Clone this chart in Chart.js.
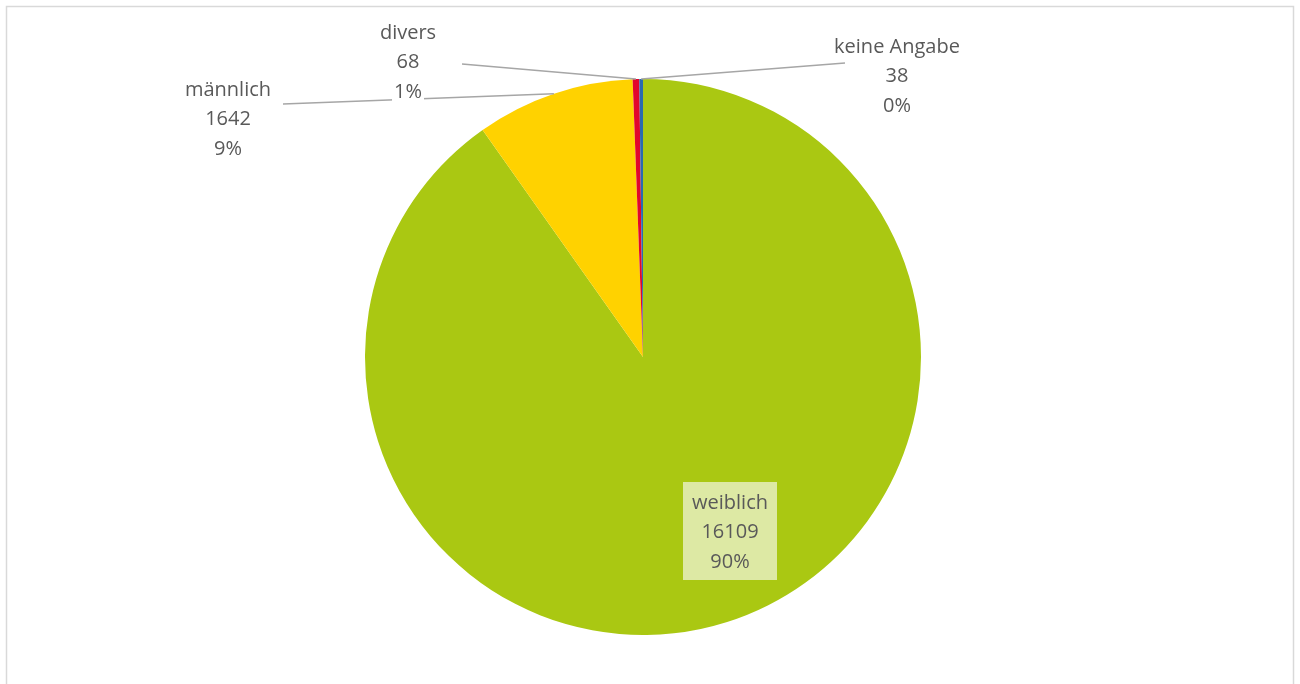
<!DOCTYPE html>
<html>
<head>
<meta charset="utf-8">
<script src="https://cdn.jsdelivr.net/npm/chart.js@4"></script>
<style>
  html, body { margin: 0; padding: 0; background: #ffffff; }
  #wrap { width: 1300px; height: 684px; }
</style>
</head>
<body>
<div id="wrap"><canvas id="genderChart" width="1300" height="684"></canvas></div>
<script>
const categories = ['weiblich', 'männlich', 'divers', 'keine Angabe'];
const counts = [16109, 1642, 68, 38];
const percentLabels = ['90%', '9%', '1%', '0%'];
const sliceColors = ['#aac812', '#ffd200', '#e2062c', '#2a6ab0'];

// where each label block sits (centre x, first line y) and where its leader line starts
const labelSpots = [
    { x: 730, y: 503, box: true },
    { x: 228, y: 90, lineFrom: [283, 104] },
    { x: 408, y: 33, lineFrom: [462, 64] },
    { x: 897, y: 47, lineFrom: [845, 63] }
];

const textColor = '#595959';
const lineColor = '#a6a6a6';
const labelFont = '20px "Open Sans", sans-serif';

const framePlugin = {
    id: 'frame',
    beforeDraw(chart) {
        const c = chart.ctx;
        c.save();
        c.strokeStyle = '#d9d9d9';
        c.lineWidth = 1.5;
        c.beginPath();
        c.moveTo(6.5, 700);
        c.lineTo(6.5, 6.5);
        c.lineTo(1293.5, 6.5);
        c.lineTo(1293.5, 700);
        c.stroke();
        c.restore();
    }
};

const labelPlugin = {
    id: 'sliceLabels',
    afterDatasetsDraw(chart) {
        const c = chart.ctx;
        const arcs = chart.getDatasetMeta(0).data;
        c.save();
        c.font = labelFont;
        c.textAlign = 'center';
        c.textBaseline = 'middle';
        const lh = 29.5;

        arcs.forEach((arc, i) => {
            const spot = labelSpots[i];
            const lines = [categories[i], String(counts[i]), percentLabels[i]];

            if (spot.lineFrom) {
                const p = arc.getProps(['x', 'y', 'startAngle', 'endAngle', 'outerRadius'], true);
                const mid = (p.startAngle + p.endAngle) / 2;
                const ex = p.x + Math.cos(mid) * p.outerRadius;
                const ey = p.y + Math.sin(mid) * p.outerRadius;
                c.strokeStyle = lineColor;
                c.lineWidth = 1.5;
                c.beginPath();
                c.moveTo(spot.lineFrom[0], spot.lineFrom[1]);
                c.lineTo(ex, ey);
                c.stroke();
            }

            if (spot.box) {
                c.fillStyle = '#dde9a4';
                c.fillRect(spot.x - 47, spot.y - 21, 94, 98);
            } else {
                // white backing so leader lines pass behind the text
                lines.forEach((t, k) => {
                    const w = c.measureText(t).width;
                    c.fillStyle = '#ffffff';
                    c.fillRect(spot.x - w / 2 - 2, spot.y + k * lh - 11, w + 4, 22);
                });
            }

            c.fillStyle = textColor;
            lines.forEach((t, k) => {
                c.fillText(t, spot.x, spot.y + k * lh);
            });
        });
        c.restore();
    }
};

new Chart(document.getElementById('genderChart'), {
    type: 'pie',
    data: {
        labels: categories,
        datasets: [{
            data: counts,
            backgroundColor: sliceColors,
            borderWidth: 0
        }]
    },
    options: {
        responsive: false,
        animation: false,
        layout: {
            padding: { left: 365, right: 379, top: 79, bottom: 49 }
        },
        plugins: {
            legend: { display: false },
            tooltip: { enabled: false }
        }
    },
    plugins: [framePlugin, labelPlugin]
});
</script>
</body>
</html>
